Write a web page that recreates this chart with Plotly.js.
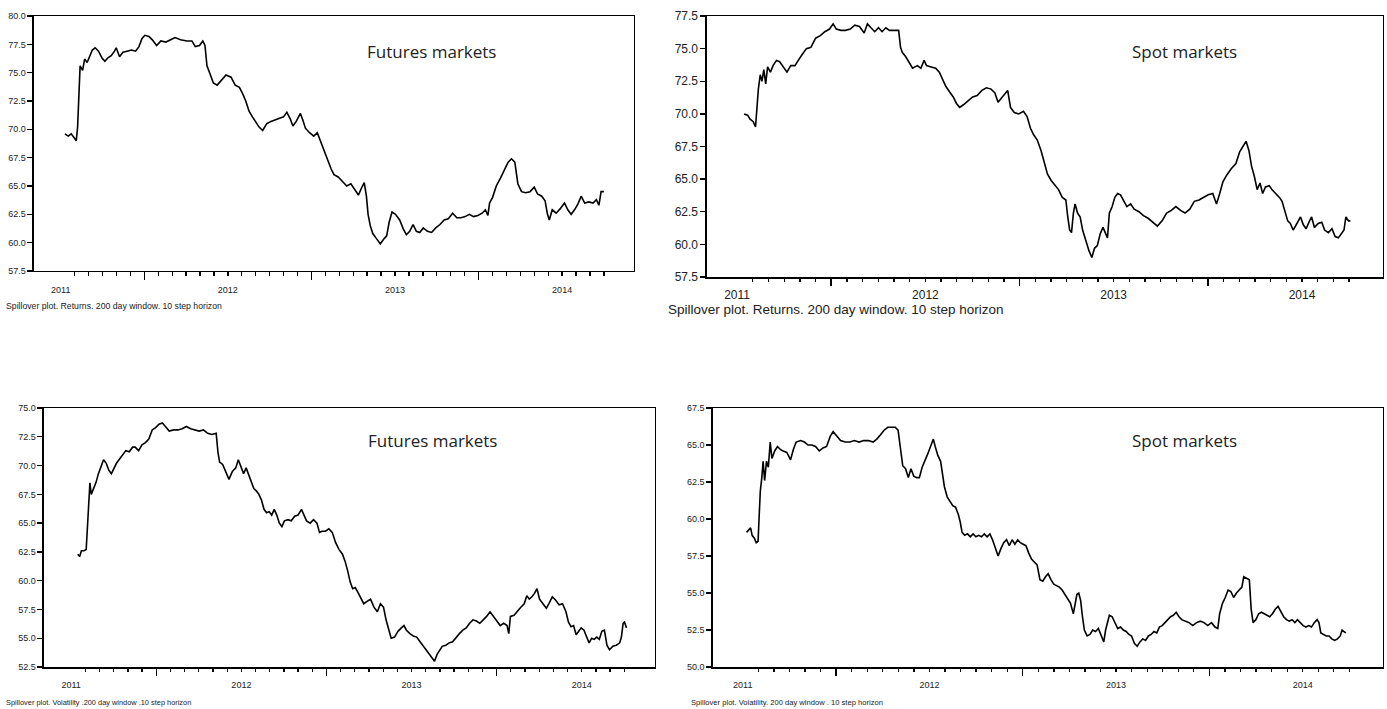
<!DOCTYPE html>
<html><head><meta charset="utf-8">
<script src="https://cdn.plot.ly/plotly-3.0.1.min.js"></script>
<style>html,body{margin:0;padding:0;background:#fff}#chart{width:1387px;height:709px}</style>
</head><body><div id="chart"></div>
<script>
// ---------- tick labels ----------
const yearTicks = [2011, 2012, 2013, 2014];
const yearLabels = ['2011', '2012', '2013', '2014'];
const midYearTicks = [2011.5, 2012.5, 2013.5];

// ---------- Panel 1: Futures markets, returns ----------
const futRetX = [2011.025,2011.045,2011.063,2011.081,2011.093,2011.101,2011.108,2011.116,2011.131,2011.143,
2011.158,2011.171,2011.189,2011.206,2011.226,2011.247,2011.264,2011.282,2011.302,2011.322,
2011.332,2011.352,2011.372,2011.397,2011.423,2011.448,2011.468,2011.486,2011.503,2011.528,
2011.548,2011.574,2011.599,2011.629,2011.654,2011.684,2011.717,2011.755,2011.785,2011.805,
2011.830,2011.850,2011.863,2011.875,2011.893,2011.913,2011.936,2011.961,2011.989,2012.019,
2012.044,2012.069,2012.087,2012.107,2012.127,2012.147,2012.170,2012.187,2012.208,2012.233,
2012.258,2012.288,2012.313,2012.333,2012.353,2012.374,2012.389,2012.409,2012.434,2012.449,
2012.464,2012.489,2012.514,2012.535,2012.550,2012.572,2012.597,2012.618,2012.635,2012.660,
2012.686,2012.711,2012.736,2012.761,2012.781,2012.799,2012.816,2012.829,2012.839,2012.852,
2012.867,2012.887,2012.912,2012.932,2012.950,2012.965,2012.982,2013.003,2013.028,2013.050,
2013.068,2013.088,2013.108,2013.128,2013.148,2013.169,2013.194,2013.219,2013.244,2013.269,
2013.294,2013.319,2013.345,2013.370,2013.395,2013.420,2013.445,2013.470,2013.496,2013.521,
2013.541,2013.556,2013.566,2013.584,2013.606,2013.631,2013.657,2013.677,2013.697,2013.717,
2013.735,2013.757,2013.782,2013.808,2013.833,2013.853,2013.878,2013.898,2013.911,2013.923,
2013.941,2013.964,2013.989,2014.014,2014.034,2014.054,2014.074,2014.094,2014.114,2014.135,
2014.160,2014.185,2014.205,2014.220,2014.233,2014.250];
const futRetY = [69.6,69.4,69.6,69.2,69.0,70.2,73.2,75.6,75.2,76.2,
75.9,76.4,77.0,77.2,76.9,76.3,76.0,76.3,76.5,76.9,
77.2,76.4,76.8,76.9,77.0,76.9,77.3,78.0,78.3,78.2,
77.9,77.4,77.8,77.7,77.9,78.1,77.9,77.8,77.8,77.3,
77.4,77.8,77.4,75.6,74.9,74.1,73.9,74.3,74.8,74.6,
73.9,73.7,73.2,72.5,71.6,71.1,70.6,70.2,69.9,70.5,
70.7,70.9,71.0,71.1,71.5,70.9,70.3,70.7,71.4,70.8,
70.1,69.7,69.4,69.7,69.1,68.3,67.4,66.5,66.0,65.8,
65.4,65.0,65.2,64.7,64.2,64.8,65.3,64.1,62.5,61.5,
60.8,60.4,59.9,60.3,60.6,61.8,62.7,62.5,62.0,61.2,
60.7,61.0,61.6,61.0,60.9,61.3,61.0,60.9,61.3,61.6,
62.0,62.1,62.6,62.2,62.2,62.3,62.5,62.3,62.4,62.6,
62.9,62.4,63.5,64.0,65.0,65.7,66.5,67.1,67.4,67.1,
65.2,64.5,64.4,64.5,64.9,64.3,64.1,63.7,62.6,62.0,
62.9,62.6,63.0,63.5,62.9,62.5,62.9,63.4,64.1,63.5,
63.6,63.5,63.8,63.3,64.5,64.5];

// ---------- Panel 2: Spot markets, returns ----------
const spotRetX = [2011.037,2011.056,2011.069,2011.086,2011.098,2011.105,2011.113,2011.123,2011.132,2011.142,
2011.152,2011.162,2011.177,2011.191,2011.209,2011.226,2011.245,2011.265,2011.285,2011.307,
2011.343,2011.368,2011.392,2011.417,2011.442,2011.466,2011.491,2011.510,2011.527,2011.552,
2011.576,2011.601,2011.625,2011.650,2011.675,2011.692,2011.711,2011.731,2011.751,2011.770,
2011.790,2011.809,2011.839,2011.858,2011.868,2011.878,2011.895,2011.912,2011.932,2011.957,
2011.976,2011.993,2012.006,2012.030,2012.055,2012.074,2012.091,2012.109,2012.128,2012.148,
2012.165,2012.182,2012.202,2012.226,2012.251,2012.275,2012.300,2012.324,2012.349,2012.369,
2012.386,2012.403,2012.423,2012.437,2012.452,2012.472,2012.496,2012.521,2012.540,2012.558,
2012.575,2012.594,2012.614,2012.631,2012.648,2012.668,2012.688,2012.707,2012.727,2012.746,
2012.756,2012.766,2012.776,2012.786,2012.795,2012.808,2012.822,2012.835,2012.852,2012.869,
2012.884,2012.898,2012.913,2012.928,2012.943,2012.957,2012.967,2012.977,2012.992,2013.006,
2013.021,2013.036,2013.051,2013.070,2013.090,2013.109,2013.134,2013.158,2013.183,2013.207,
2013.232,2013.257,2013.281,2013.306,2013.330,2013.355,2013.379,2013.404,2013.428,2013.453,
2013.477,2013.502,2013.526,2013.546,2013.563,2013.580,2013.600,2013.624,2013.649,2013.669,
2013.686,2013.703,2013.718,2013.732,2013.747,2013.762,2013.777,2013.791,2013.806,2013.826,
2013.840,2013.860,2013.880,2013.894,2013.909,2013.924,2013.938,2013.953,2013.973,2013.992,
2014.007,2014.022,2014.037,2014.051,2014.066,2014.086,2014.105,2014.120,2014.140,2014.159,
2014.176,2014.193,2014.208,2014.223,2014.233,2014.247,2014.257];
const spotRetY = [70.0,69.9,69.6,69.4,69.0,70.3,71.9,73.0,72.5,73.4,
72.3,73.6,73.2,73.7,74.1,74.0,73.6,73.2,73.7,73.7,
74.5,75.0,75.1,75.8,76.0,76.3,76.5,76.9,76.5,76.4,
76.4,76.5,76.8,76.7,76.2,76.9,76.6,76.3,76.6,76.3,
76.6,76.4,76.4,76.4,75.1,74.7,74.4,74.0,73.5,73.7,
73.5,74.1,73.7,73.6,73.5,73.2,72.6,72.1,71.7,71.3,
70.8,70.5,70.7,71.0,71.3,71.4,71.8,72.0,71.9,71.6,
70.9,71.2,71.6,71.8,70.5,70.1,70.0,70.2,69.8,68.9,
68.4,68.0,67.2,66.3,65.4,64.9,64.5,64.2,63.6,63.4,
62.1,61.1,60.9,62.4,63.1,62.4,62.1,61.1,60.3,59.5,
59.0,59.7,59.9,60.8,61.3,60.9,60.5,62.4,62.9,63.6,
63.9,63.8,63.4,62.9,63.1,62.7,62.5,62.2,62.0,61.7,
61.4,61.8,62.4,62.6,62.9,62.6,62.4,62.7,63.3,63.4,
63.6,63.8,63.9,63.1,63.9,64.8,65.3,65.8,66.2,67.1,
67.5,67.9,67.2,66.0,65.2,64.2,64.7,63.9,64.4,64.5,
64.2,63.9,63.6,63.3,62.6,61.8,61.6,61.1,61.6,62.1,
61.5,61.2,61.7,62.1,61.3,61.6,61.7,61.1,60.9,61.2,
60.6,60.5,60.8,61.1,62.1,61.8,61.8];

// ---------- Panel 3: Futures markets, volatility ----------
const futVolX = [2011.038,2011.050,2011.060,2011.075,2011.088,2011.095,2011.103,2011.110,2011.118,2011.130,
2011.145,2011.160,2011.175,2011.190,2011.206,2011.221,2011.236,2011.251,2011.266,2011.281,
2011.301,2011.321,2011.341,2011.361,2011.376,2011.396,2011.416,2011.436,2011.456,2011.476,
2011.496,2011.516,2011.536,2011.556,2011.576,2011.602,2011.627,2011.652,2011.677,2011.702,
2011.727,2011.752,2011.777,2011.802,2011.827,2011.852,2011.862,2011.872,2011.890,2011.907,
2011.927,2011.947,2011.967,2011.982,2011.997,2012.013,2012.028,2012.043,2012.058,2012.073,
2012.088,2012.103,2012.118,2012.133,2012.148,2012.163,2012.178,2012.193,2012.208,2012.223,
2012.238,2012.253,2012.273,2012.293,2012.313,2012.333,2012.353,2012.368,2012.383,2012.404,
2012.424,2012.444,2012.459,2012.474,2012.494,2012.514,2012.534,2012.554,2012.574,2012.594,
2012.609,2012.624,2012.639,2012.654,2012.669,2012.684,2012.699,2012.719,2012.739,2012.759,
2012.779,2012.799,2012.817,2012.835,2012.850,2012.865,2012.880,2012.900,2012.920,2012.940,
2012.955,2012.970,2012.990,2013.010,2013.030,2013.050,2013.070,2013.090,2013.110,2013.125,
2013.135,2013.150,2013.165,2013.180,2013.201,2013.221,2013.241,2013.261,2013.281,2013.301,
2013.321,2013.341,2013.361,2013.381,2013.401,2013.421,2013.441,2013.461,2013.481,2013.501,
2013.521,2013.541,2013.561,2013.571,2013.581,2013.602,2013.622,2013.642,2013.662,2013.677,
2013.692,2013.707,2013.722,2013.737,2013.752,2013.772,2013.792,2013.807,2013.827,2013.847,
2013.867,2013.887,2013.907,2013.922,2013.937,2013.952,2013.967,2013.982,2013.997,2014.013,
2014.028,2014.043,2014.058,2014.073,2014.088,2014.103,2014.118,2014.133,2014.148,2014.163,
2014.183,2014.203,2014.223,2014.233,2014.243,2014.251,2014.263];
const futVolY = [62.3,62.1,62.6,62.6,62.7,64.9,67.2,68.5,67.5,67.9,
68.5,69.3,69.9,70.5,70.2,69.6,69.3,69.8,70.2,70.5,
70.9,71.3,71.2,71.6,71.6,71.3,71.8,72.0,72.3,73.1,
73.3,73.6,73.7,73.3,73.0,73.1,73.1,73.2,73.4,73.2,
73.1,73.0,73.1,72.8,72.7,72.8,71.2,70.3,70.1,69.5,
68.8,69.5,69.8,70.5,69.9,69.3,69.8,69.2,68.6,68.0,
67.8,67.5,67.0,66.2,65.9,66.0,65.7,66.2,65.7,65.0,
64.7,65.2,65.3,65.2,65.6,65.7,66.2,65.7,65.2,65.0,
65.3,65.0,64.2,64.3,64.3,64.5,64.2,63.3,62.7,62.3,
61.7,60.9,59.9,59.3,59.4,59.0,58.6,58.0,58.2,58.4,
57.7,57.3,58.0,57.7,56.6,55.7,55.0,55.1,55.6,55.9,
56.1,55.7,55.4,55.2,55.1,54.7,54.3,53.9,53.6,53.3,
53.0,53.6,53.9,54.3,54.4,54.6,54.7,55.1,55.4,55.7,
55.9,56.3,56.6,56.5,56.3,56.6,56.9,57.3,56.9,56.4,
56.1,56.3,56.1,55.4,56.9,57.0,57.4,57.7,58.0,58.7,
58.4,58.6,58.9,59.3,58.4,58.0,57.6,58.0,58.6,58.3,
57.9,58.0,57.3,56.4,56.0,56.1,55.3,55.6,55.9,55.7,
55.1,54.6,55.0,54.9,55.1,54.9,55.6,55.7,54.4,54.0,
54.3,54.4,54.6,55.1,56.3,56.4,55.9];

// ---------- Panel 4: Spot markets, volatility ----------
const spotVolX = [2011.020,2011.032,2011.042,2011.050,2011.062,2011.072,2011.082,2011.087,2011.094,2011.102,
2011.109,2011.117,2011.127,2011.137,2011.147,2011.156,2011.171,2011.186,2011.201,2011.216,
2011.236,2011.256,2011.271,2011.286,2011.310,2011.330,2011.350,2011.370,2011.390,2011.410,
2011.430,2011.449,2011.469,2011.484,2011.504,2011.524,2011.549,2011.574,2011.598,2011.623,
2011.648,2011.673,2011.698,2011.718,2011.738,2011.757,2011.777,2011.797,2011.817,2011.832,
2011.844,2011.857,2011.872,2011.887,2011.901,2011.916,2011.931,2011.946,2011.961,2011.976,
2011.991,2012.006,2012.021,2012.031,2012.045,2012.060,2012.070,2012.080,2012.095,2012.110,
2012.125,2012.140,2012.155,2012.165,2012.175,2012.189,2012.204,2012.219,2012.234,2012.249,
2012.264,2012.279,2012.294,2012.309,2012.324,2012.338,2012.353,2012.368,2012.383,2012.398,
2012.413,2012.428,2012.443,2012.458,2012.473,2012.487,2012.502,2012.517,2012.532,2012.547,
2012.562,2012.577,2012.592,2012.607,2012.622,2012.636,2012.651,2012.666,2012.681,2012.696,
2012.711,2012.726,2012.741,2012.756,2012.771,2012.781,2012.790,2012.800,2012.810,2012.820,
2012.830,2012.845,2012.860,2012.875,2012.890,2012.905,2012.920,2012.934,2012.944,2012.954,
2012.964,2012.979,2012.994,2013.009,2013.024,2013.039,2013.054,2013.069,2013.083,2013.098,
2013.113,2013.128,2013.143,2013.158,2013.173,2013.188,2013.203,2013.218,2013.232,2013.247,
2013.262,2013.277,2013.292,2013.307,2013.322,2013.337,2013.352,2013.372,2013.391,2013.411,
2013.431,2013.451,2013.471,2013.491,2013.511,2013.530,2013.545,2013.555,2013.570,2013.585,
2013.600,2013.615,2013.630,2013.645,2013.660,2013.674,2013.684,2013.699,2013.714,2013.724,
2013.734,2013.749,2013.764,2013.779,2013.794,2013.809,2013.823,2013.838,2013.853,2013.868,
2013.883,2013.898,2013.913,2013.928,2013.943,2013.958,2013.972,2013.987,2014.002,2014.017,
2014.032,2014.047,2014.062,2014.077,2014.087,2014.097,2014.112,2014.126,2014.141,2014.156,
2014.171,2014.186,2014.201,2014.211,2014.221,2014.231];
const spotVolY = [59.1,59.3,59.4,58.9,58.7,58.4,58.5,60.0,61.9,62.8,
63.9,62.6,63.9,63.5,65.2,64.1,64.6,64.9,64.7,64.6,
64.5,64.0,64.7,65.2,65.3,65.2,65.0,65.0,64.9,64.6,
64.8,64.9,65.6,65.9,65.6,65.3,65.2,65.2,65.3,65.2,
65.3,65.3,65.2,65.4,65.7,66.0,66.2,66.2,66.2,66.0,
65.0,63.6,63.4,62.8,63.4,62.9,62.8,62.8,63.5,63.9,
64.4,64.9,65.4,64.9,64.3,63.9,63.1,62.2,61.5,61.2,
60.9,60.8,60.3,59.8,59.1,58.9,59.0,58.8,59.0,58.8,
58.9,58.8,59.0,58.8,59.0,58.6,58.1,57.5,58.0,58.4,
58.6,58.2,58.6,58.3,58.6,58.4,58.3,58.2,57.7,57.3,
57.1,56.9,55.9,55.8,56.1,56.3,55.9,55.6,55.5,55.4,
55.2,54.9,54.6,54.3,53.6,54.3,54.9,55.0,54.5,53.4,
52.5,52.1,52.2,52.5,52.4,52.6,52.1,51.7,52.5,53.1,
53.5,53.4,53.0,52.6,52.7,52.5,52.4,52.2,52.1,51.6,
51.4,51.7,51.9,51.8,52.1,52.2,52.4,52.3,52.7,52.8,
53.0,53.2,53.4,53.5,53.7,53.4,53.2,53.1,53.0,52.8,
53.0,53.1,53.0,52.8,53.0,52.7,52.6,53.6,54.3,54.7,
55.2,55.1,54.7,55.0,55.2,55.4,56.1,56.0,55.9,53.9,
53.0,53.2,53.6,53.7,53.6,53.5,53.4,53.6,53.9,54.1,
53.7,53.4,53.2,53.1,53.2,53.0,53.2,53.0,52.8,52.7,
52.8,52.7,53.0,53.2,53.0,52.3,52.2,52.1,52.1,51.9,
51.8,51.9,52.1,52.5,52.4,52.3];

// ---------- chart construction ----------
const xRange = [2010.84, 2014.43];
const monthTicks = [];
for (let m = 1; m <= 39; m++) monthTicks.push(2011 + m / 12);

const narrow = 'Liberation Sans Narrow, Arial Narrow, Liberation Sans, sans-serif';
const regular = 'Liberation Sans, Arial, sans-serif';

const panels = [
  {x: futRetX, y: futRetY, xd: [0.0245, 0.4571], yd: [0.6178, 0.9774], yr: [57.5, 80],
   tf: {family: narrow, size: 9, color: '#222'}, xstand: 10,
   title: 'Futures markets', tx: 0.311, ty: 0.927,
   cap: 'Spillover plot. Returns. 200 day window. 10 step horizon', cx: 0.003, cy: 0.568, cf: {family: narrow, size: 8.7, color: '#222'}},
  {x: spotRetX, y: spotRetY, xd: [0.5097, 0.9971], yd: [0.6093, 0.9774], yr: [57.5, 77.5],
   tf: {family: regular, size: 12, color: '#222'}, xstand: 6,
   title: 'Spot markets', tx: 0.8537, ty: 0.927,
   cap: 'Spillover plot. Returns. 200 day window. 10 step horizon', cx: 0.4805, cy: 0.563, cf: {family: regular, size: 13.5, color: '#222'}},
  {x: futVolX, y: futVolY, xd: [0.0317, 0.4722], yd: [0.0592, 0.4245], yr: [52.5, 75],
   tf: {family: narrow, size: 9, color: '#222'}, xstand: 9,
   title: 'Futures markets', tx: 0.3115, ty: 0.378,
   cap: 'Spillover plot. Volatility .200 day window .10 step horizon', cx: 0.003, cy: 0.0085, cf: {family: narrow, size: 7.4, color: '#222'}},
  {x: spotVolX, y: spotVolY, xd: [0.514, 0.9971], yd: [0.0592, 0.4245], yr: [50, 67.5],
   tf: {family: narrow, size: 9, color: '#222'}, xstand: 9,
   title: 'Spot markets', tx: 0.8537, ty: 0.378,
   cap: 'Spillover plot. Volatility. 200 day window . 10 step horizon', cx: 0.4965, cy: 0.0085, cf: {family: narrow, size: 7.6, color: '#222'}}
];

const data = [];
const layout = {
  width: 1387, height: 709, margin: {l: 0, r: 0, t: 0, b: 0},
  paper_bgcolor: '#fff', plot_bgcolor: '#fff', showlegend: false,
  annotations: []
};

panels.forEach((p, i) => {
  const n = i + 1;
  const xa = n === 1 ? 'x' : 'x' + n;
  const ya = n === 1 ? 'y' : 'y' + n;
  const tickAxisId = 'x' + (n + 4);
  data.push({x: p.x, y: p.y, xaxis: xa, yaxis: ya, type: 'scatter', mode: 'lines',
             line: {color: '#000', width: 1.6}, hoverinfo: 'skip'});
  data.push({x: [], y: [], xaxis: tickAxisId, yaxis: ya, type: 'scatter', mode: 'lines', hoverinfo: 'skip'});
  layout['xaxis' + (n === 1 ? '' : n)] = {
    domain: p.xd, range: xRange, anchor: ya, showline: true, mirror: true,
    linecolor: '#000', linewidth: 1.5, showgrid: false, zeroline: false,
    tickmode: 'array', tickvals: yearTicks, ticktext: yearLabels, ticks: '',
    ticklabelstandoff: p.xstand, tickfont: p.tf
  };
  layout['xaxis' + (n + 4)] = {
    domain: p.xd, range: xRange, anchor: ya, overlaying: xa, showline: false,
    showgrid: false, zeroline: false, showticklabels: false,
    tickmode: 'array', tickvals: monthTicks, ticks: 'outside', ticklen: 4, tickwidth: 1.3, tickcolor: '#000',
    minor: {tickmode: 'array', tickvals: midYearTicks, ticks: 'outside', ticklen: 8, tickwidth: 1.5, tickcolor: '#000', showgrid: false}
  };
  layout['yaxis' + (n === 1 ? '' : n)] = {
    domain: p.yd, range: p.yr, anchor: xa, showline: true, mirror: true,
    linecolor: '#000', linewidth: 1.5, showgrid: false, zeroline: false,
    tick0: 0, dtick: 2.5, tickformat: '.1f', ticks: 'outside', ticklen: 5, tickwidth: 1.3, tickcolor: '#000',
    tickfont: p.tf
  };
  layout.annotations.push({xref: 'paper', yref: 'paper', x: p.tx, y: p.ty, xanchor: 'center', yanchor: 'middle',
    text: p.title, showarrow: false, font: {family: 'Open Sans, Noto Sans, sans-serif', size: 17, color: '#222'}});
  layout.annotations.push({xref: 'paper', yref: 'paper', x: p.cx, y: p.cy, xanchor: 'left', yanchor: 'middle',
    text: p.cap, showarrow: false, font: p.cf});
});

Plotly.newPlot('chart', data, layout, {staticPlot: true});
</script></body></html>
